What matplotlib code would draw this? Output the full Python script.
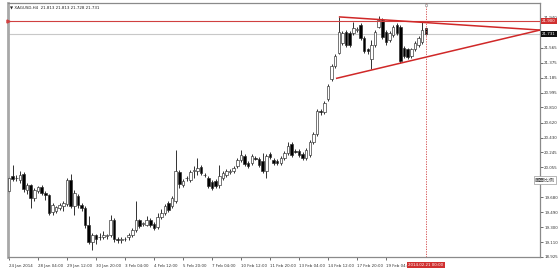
import matplotlib
matplotlib.use("Agg")
import matplotlib.pyplot as plt
import matplotlib.transforms as mtransforms
import numpy as np

# ---------------- data (XAGUSD H4) ----------------
opens = [19.757, 19.944, 19.919, 19.894, 19.969, 19.769, 19.832, 19.669, 19.757, 19.807,
         19.732, 19.707, 19.495, 19.507, 19.545, 19.570, 19.594, 19.894, 19.570, 19.694,
         19.582, 19.545, 19.333, 19.108, 19.196, 19.171, 19.171, 19.190, 19.196, 19.395,
         19.146, 19.133, 19.146, 19.171, 19.208, 19.270, 19.395, 19.345, 19.333, 19.395,
         19.345, 19.308, 19.432, 19.482, 19.607, 19.570, 19.632, 19.994, 19.832, 19.919,
         19.894, 20.006, 20.006, 20.056, 19.956, 19.919, 19.869, 19.882, 19.832, 19.919,
         19.956, 19.994, 20.006, 20.069, 20.143, 20.193, 20.106, 20.106, 20.168, 20.156,
         20.131, 20.006, 20.218, 20.143, 20.131, 20.106, 20.168, 20.231, 20.355, 20.255,
         20.255, 20.218, 20.168, 20.206, 20.380, 20.480, 20.767, 20.754, 20.916, 21.166,
         21.328, 21.502, 21.627, 21.764, 21.752, 21.752, 21.789, 21.851, 21.689, 21.540,
         21.415, 21.602, 21.826, 21.914, 21.764, 21.664, 21.727, 21.851, 21.826, 21.565,
         21.540, 21.452, 21.540, 21.602, 21.640, 21.813]
highs = [19.944, 20.081, 19.956, 20.006, 19.994, 19.857, 19.844, 19.794, 19.819, 19.832,
         19.757, 19.719, 19.607, 19.570, 19.607, 19.632, 19.919, 19.969, 19.769, 19.719,
         19.607, 19.570, 19.445, 19.233, 19.220, 19.233, 19.258, 19.220, 19.457, 19.420,
         19.171, 19.171, 19.183, 19.233, 19.295, 19.632, 19.408, 19.370, 19.445, 19.420,
         19.370, 19.482, 19.532, 19.594, 19.632, 19.694, 20.268, 20.019, 19.907, 19.944,
         20.019, 20.069, 20.168, 20.081, 19.981, 19.944, 19.894, 19.907, 20.081, 20.006,
         20.031, 20.031, 20.069, 20.168, 20.268, 20.218, 20.131, 20.218, 20.193, 20.181,
         20.231, 20.218, 20.243, 20.168, 20.156, 20.193, 20.255, 20.380, 20.380, 20.280,
         20.280, 20.243, 20.293, 20.405, 20.505, 20.792, 20.792, 20.891, 21.103, 21.353,
         21.477, 21.951, 21.777, 21.789, 21.777, 21.889, 21.826, 21.876, 21.714, 21.565,
         21.664, 21.789, 21.964, 21.939, 21.789, 21.777, 21.851, 21.876, 21.851, 21.590,
         21.565, 21.565, 21.652, 21.714, 21.889, 21.813]
lows = [19.732, 19.882, 19.882, 19.857, 19.744, 19.719, 19.545, 19.632, 19.732, 19.707,
        19.644, 19.457, 19.457, 19.482, 19.520, 19.507, 19.570, 19.545, 19.457, 19.545,
        19.507, 19.295, 19.083, 19.009, 19.083, 19.133, 19.146, 19.158, 19.171, 19.108,
        19.096, 19.096, 19.121, 19.133, 19.183, 19.245, 19.295, 19.320, 19.320, 19.308,
        19.270, 19.283, 19.408, 19.457, 19.495, 19.545, 19.607, 19.794, 19.807, 19.882,
        19.869, 19.919, 19.956, 19.956, 19.931, 19.794, 19.769, 19.794, 19.794, 19.894,
        19.931, 19.969, 19.981, 20.044, 20.118, 20.069, 20.044, 20.081, 20.143, 20.056,
        19.981, 19.919, 20.156, 20.081, 20.081, 20.081, 20.143, 20.206, 20.181, 20.231,
        20.181, 20.143, 20.143, 20.181, 20.355, 20.455, 20.717, 20.729, 20.891, 21.141,
        21.303, 21.477, 21.602, 21.577, 21.577, 21.727, 21.764, 21.664, 21.490, 21.477,
        21.290, 21.577, 21.814, 21.677, 21.602, 21.640, 21.702, 21.727, 21.365, 21.428,
        21.415, 21.428, 21.515, 21.577, 21.615, 21.728]
closes = [19.919, 19.907, 19.925, 19.956, 19.782, 19.832, 19.669, 19.769, 19.807, 19.732,
          19.707, 19.482, 19.582, 19.557, 19.582, 19.607, 19.894, 19.570, 19.732, 19.582,
          19.545, 19.333, 19.108, 19.208, 19.146, 19.183, 19.196, 19.200, 19.395, 19.146,
          19.133, 19.146, 19.158, 19.208, 19.270, 19.395, 19.320, 19.350, 19.395, 19.333,
          19.295, 19.432, 19.482, 19.570, 19.520, 19.669, 20.006, 19.844, 19.882, 19.925,
          19.994, 20.019, 20.044, 19.981, 19.962, 19.819, 19.794, 19.819, 19.944, 19.981,
          20.006, 20.006, 20.044, 20.143, 20.206, 20.093, 20.069, 20.193, 20.162, 20.081,
          20.006, 20.193, 20.181, 20.106, 20.106, 20.168, 20.231, 20.330, 20.206, 20.250,
          20.206, 20.168, 20.268, 20.380, 20.480, 20.767, 20.754, 20.866, 21.078, 21.328,
          21.452, 21.764, 21.752, 21.602, 21.602, 21.814, 21.800, 21.689, 21.515, 21.527,
          21.602, 21.764, 21.914, 21.702, 21.640, 21.752, 21.826, 21.752, 21.390, 21.452,
          21.440, 21.540, 21.627, 21.689, 21.789, 21.731]

x_tick_bars = [0, 8, 16, 24, 32, 40, 48, 56, 64, 72, 80, 88, 96, 104]
x_tick_labels = ["24 Jan 2014", "28 Jan 04:00", "29 Jan 12:00", "30 Jan 20:00",
                 "3 Feb 04:00", "4 Feb 12:00", "5 Feb 20:00", "7 Feb 04:00",
                 "10 Feb 12:00", "11 Feb 20:00", "13 Feb 04:00", "14 Feb 12:00",
                 "17 Feb 20:00", "19 Feb 04:0"]
y_ticks = [18.925, 19.110, 19.300, 19.490, 19.680, 19.865, 20.055, 20.245, 20.430,
           20.620, 20.810, 20.995, 21.185, 21.375, 21.565, 21.755, 21.940]
y_hidden = [19.865, 21.755]   # labels covered by the button / price tag

level_price = 21.900          # horizontal red line
bid_price = 21.731            # last price
upper_tl_x = [91, 146.5]
upper_tl_y = [21.951, 21.785]
lower_tl_x = [90.2, 146.5]
lower_tl_y = [21.175, 21.785]
cursor_bar = 115
cursor_label = "2014.02.21 00:00"
header = "\u25BC XAGUSD,H4  21.813 21.813 21.728 21.731"

# ---------------- figure ----------------
W, H = 558, 271
fig = plt.figure(figsize=(W / 100, H / 100), dpi=100)
fig.patch.set_facecolor("white")
left_px, right_px, top_px, bot_px = 8, 540, 3, 257
ax = fig.add_axes([left_px / W, 1 - bot_px / H, (right_px - left_px) / W, (bot_px - top_px) / H])
ax.set_facecolor("white")

n = len(opens)
xs = np.arange(n)
o = np.array(opens); h = np.array(highs); l = np.array(lows); c = np.array(closes)
up = c >= o

# wicks
ax.vlines(xs, l, h, color="#111111", linewidth=0.6, zorder=2)
# bodies
body_bottom = np.minimum(o, c)
body_h = np.maximum(np.abs(c - o), 0.004)
colors = np.where(up, "white", "black")
ax.bar(xs, body_h, bottom=body_bottom, width=0.7, color=colors,
       edgecolor="#2a2a2a", linewidth=0.45, zorder=3)

# lines
ax.axhline(bid_price, color="#c8c8c8", linewidth=0.8, zorder=1)
ax.axhline(level_price, color="#d04040", linewidth=0.8, zorder=4)
ax.plot(upper_tl_x, upper_tl_y, color="#d02828", linewidth=1.1, zorder=4, solid_capstyle="butt")
ax.plot(lower_tl_x, lower_tl_y, color="#d02828", linewidth=1.1, zorder=4, solid_capstyle="butt")
ax.axvline(cursor_bar, color="#d04040", linewidth=0.6, linestyle=(0, (1.5, 1.5)), zorder=4)

ax.set_xlim(-0.28, 146.5)
ax.set_ylim(18.959, 22.126)

# spines
for s in ["top", "right", "bottom"]:
    ax.spines[s].set_color("#8a8a8a")
    ax.spines[s].set_linewidth(0.9)
ax.spines["left"].set_color("#a8a8a8")
ax.spines["left"].set_linewidth(2.0)

# y axis on the right
ax.yaxis.tick_right()
ax.set_yticks(y_ticks)
ax.set_yticklabels(["" if v in y_hidden else f"{v:.3f}" for v in y_ticks])
ax.tick_params(axis="y", which="both", length=2, width=0.5, pad=1.0,
               labelsize=2.9, colors="#333333", direction="out")
ax.set_xticks(x_tick_bars)
ax.set_xticklabels(x_tick_labels, ha="left")
ax.tick_params(axis="x", length=2, width=0.5, pad=3.0, labelsize=2.9,
               colors="#333333", direction="out")

# header text
ax.text(0.004, 0.983, header, transform=ax.transAxes, fontsize=2.9,
        color="#222222", va="center", ha="left", zorder=6)

# right-side price tags
ytrans = mtransforms.blended_transform_factory(ax.transAxes, ax.transData)
ax.text(1.004, level_price, f"{level_price:.3f}", transform=ytrans, fontsize=2.9,
        color="white", va="center", ha="left", zorder=7, clip_on=False,
        bbox=dict(boxstyle="square,pad=0.25", fc="#d03030", ec="#d03030", lw=0))
ax.text(1.004, bid_price, f"{bid_price:.3f}", transform=ytrans, fontsize=2.9,
        color="white", va="center", ha="left", zorder=7, clip_on=False,
        bbox=dict(boxstyle="square,pad=0.25", fc="#111111", ec="#111111", lw=0))

# small left marker on level line
ax.plot([0.0], [level_price], marker=">", markersize=2.2, color="#d04040",
        transform=ytrans, clip_on=False, zorder=6)

# cursor time tag
xtrans = mtransforms.blended_transform_factory(ax.transData, ax.transAxes)
ax.text(cursor_bar, -0.031, cursor_label, transform=xtrans, fontsize=2.9,
        color="white", va="center", ha="center", zorder=7, clip_on=False,
        bbox=dict(boxstyle="square,pad=0.3", fc="#d03030", ec="#d03030", lw=0))
ax.plot([cursor_bar], [0.992], marker="o", markersize=1.8, mfc="white",
        mec="#888888", mew=0.4, transform=xtrans, clip_on=False, zorder=6)

# zoom button text
fig.text(545 / W, 1 - 180 / H, "画面比例", fontsize=3.6, color="#444444",
         family=["Noto Sans CJK SC", "DejaVu Sans"], ha="center", va="center", zorder=8,
         bbox=dict(boxstyle="square,pad=0.25", fc="white", ec="#9a9a9a", lw=0.5))

fig.savefig("out.png", dpi=100, facecolor="white")
